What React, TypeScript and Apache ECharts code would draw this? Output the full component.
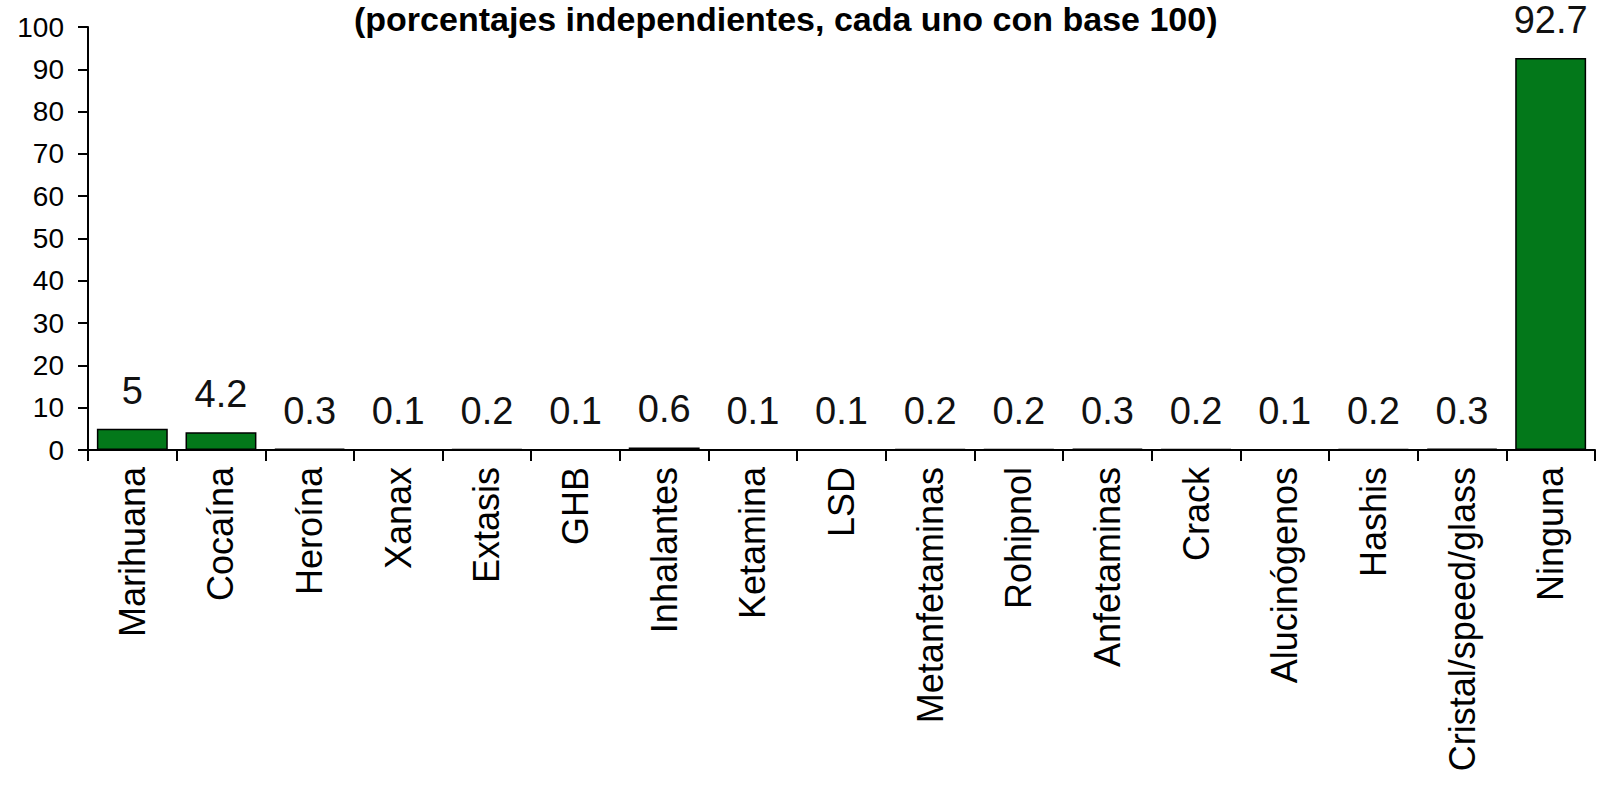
import React, { useEffect, useRef } from "react";
import * as echarts from "echarts";

const titleText = "(porcentajes independientes, cada uno con base 100)";

const categories = [
  "Marihuana",
  "Cocaína",
  "Heroína",
  "Xanax",
  "Extasis",
  "GHB",
  "Inhalantes",
  "Ketamina",
  "LSD",
  "Metanfetaminas",
  "Rohipnol",
  "Anfetaminas",
  "Crack",
  "Alucinógenos",
  "Hashis",
  "Cristal/speed/glass",
  "Ninguna",
];

const values = [5, 4.2, 0.3, 0.1, 0.2, 0.1, 0.6, 0.1, 0.1, 0.2, 0.2, 0.3, 0.2, 0.1, 0.2, 0.3, 92.7];

const yMin = 0;
const yMax = 100;
const yInterval = 10;

const FONT = "'Liberation Sans', Arial, sans-serif";

export default function App() {
  const ref = useRef<HTMLDivElement>(null);

  useEffect(() => {
    document.body.style.margin = "0";
    if (!ref.current) return;
    const chart = echarts.init(ref.current, null, { renderer: "svg" });
    chart.setOption({
      animation: false,
      backgroundColor: "#ffffff",
      title: {
        text: titleText,
        left: 354,
        top: 2,
        padding: 0,
        textStyle: {
          fontFamily: FONT,
          fontSize: 34,
          fontWeight: "bold",
          color: "#000",
        },
      },
      grid: {
        left: 88,
        right: 4,
        top: 27,
        bottom: 342,
        containLabel: false,
      },
      xAxis: {
        type: "category",
        data: categories,
        boundaryGap: true,
        axisLine: { show: true, lineStyle: { color: "#000", width: 2 } },
        axisTick: { show: true, inside: false, length: 11, alignWithLabel: false, lineStyle: { color: "#000", width: 2 } },
        axisLabel: {
          rotate: 90,
          interval: 0,
          margin: 17,
          fontFamily: FONT,
          fontSize: 36,
          color: "#000",
        },
      },
      yAxis: {
        type: "value",
        min: yMin,
        max: yMax,
        interval: yInterval,
        splitLine: { show: false },
        axisLine: { show: true, lineStyle: { color: "#000", width: 2 } },
        axisTick: { show: true, inside: false, length: 10, lineStyle: { color: "#000", width: 2 } },
        axisLabel: {
          margin: 24,
          fontFamily: FONT,
          fontSize: 28,
          color: "#000",
        },
      },
      series: [
        {
          type: "bar",
          data: values,
          barCategoryGap: "20%",
          itemStyle: {
            color: "#03781A",
            borderColor: "#000",
            borderWidth: 1.5,
          },
          label: {
            show: true,
            position: "top",
            distance: 19,
            fontFamily: FONT,
            fontSize: 38,
            color: "#111",
          },
        },
      ],
    });
    return () => chart.dispose();
  }, []);

  return <div ref={ref} style={{ width: 1599, height: 792 }} />;
}
